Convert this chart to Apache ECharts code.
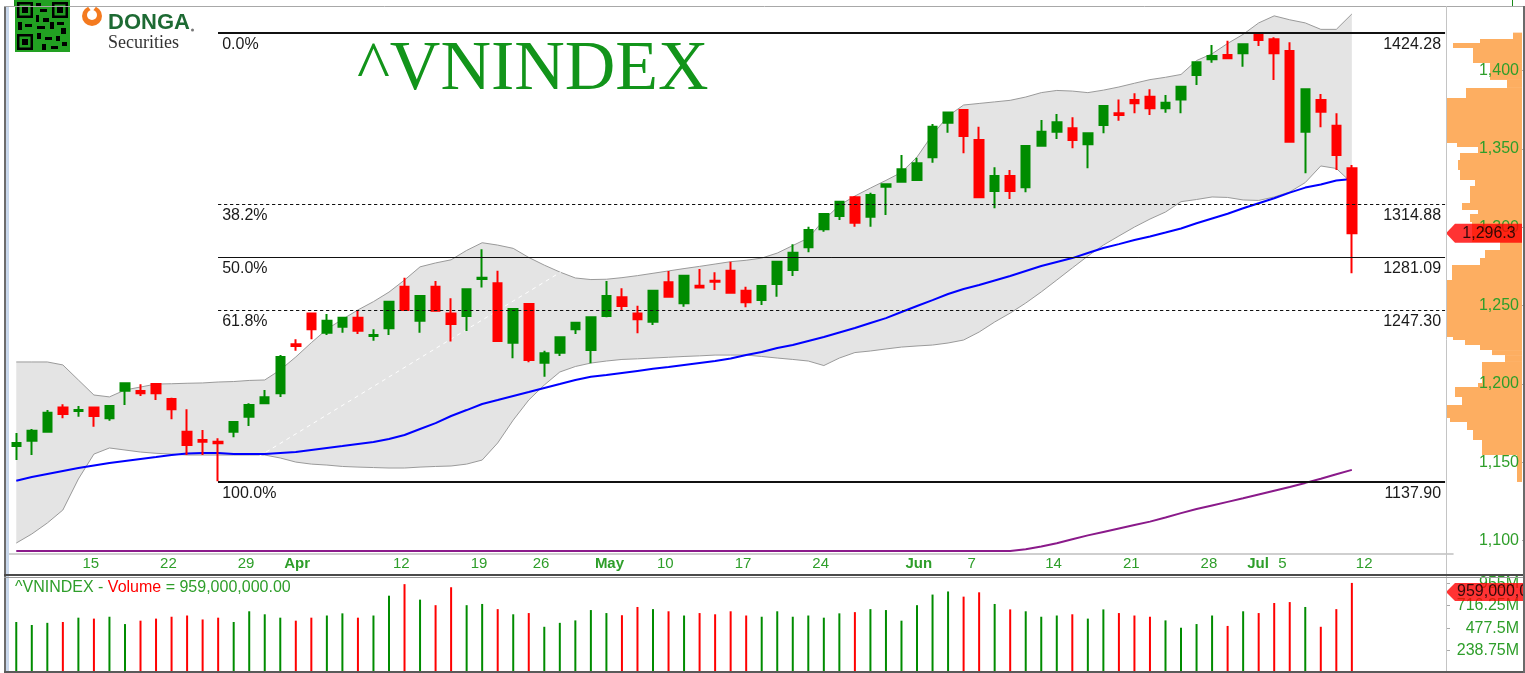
<!DOCTYPE html>
<html>
<head>
<meta charset="utf-8">
<title>^VNINDEX</title>
<script src="https://cdn.jsdelivr.net/npm/echarts@6/dist/echarts.min.js"></script>
<style>
html,body{margin:0;padding:0;background:#fff;}
#chart{width:1525px;height:673px;}
</style>
</head>
<body>
<div id="chart"></div>
<script>
// trading days shown (Mar 9 - Jul 12, 2021) + empty future slots on the right
var dates = [
 '2021-03-09','2021-03-10','2021-03-11','2021-03-12','2021-03-15','2021-03-16','2021-03-17','2021-03-18','2021-03-19',
 '2021-03-22','2021-03-23','2021-03-24','2021-03-25','2021-03-26','2021-03-29','2021-03-30','2021-03-31',
 '2021-04-01','2021-04-02','2021-04-05','2021-04-06','2021-04-07','2021-04-08','2021-04-09','2021-04-12','2021-04-13',
 '2021-04-14','2021-04-15','2021-04-16','2021-04-19','2021-04-20','2021-04-22','2021-04-23','2021-04-26','2021-04-27',
 '2021-04-28','2021-04-29','2021-05-04','2021-05-05','2021-05-06','2021-05-07','2021-05-10','2021-05-11','2021-05-12',
 '2021-05-13','2021-05-14','2021-05-17','2021-05-18','2021-05-19','2021-05-20','2021-05-21','2021-05-24','2021-05-25',
 '2021-05-26','2021-05-27','2021-05-28','2021-05-31','2021-06-01','2021-06-02','2021-06-03','2021-06-04','2021-06-07',
 '2021-06-08','2021-06-09','2021-06-10','2021-06-11','2021-06-14','2021-06-15','2021-06-16','2021-06-17','2021-06-18',
 '2021-06-21','2021-06-22','2021-06-23','2021-06-24','2021-06-25','2021-06-28','2021-06-29','2021-06-30','2021-07-01',
 '2021-07-02','2021-07-05','2021-07-06','2021-07-07','2021-07-08','2021-07-09','2021-07-12'];
var futureDates = ['2021-07-13','2021-07-14','2021-07-15','2021-07-16','2021-07-19','2021-07-20'];

// x axis tick labels (category index -> text)
var labelIdx  = [4, 9, 14, 17, 24, 29, 33, 37, 41, 46, 51, 57, 61, 66, 71, 76, 79, 81, 86];
var labelText = ['15','22','29','Apr','12','19','26','May','10','17','24','Jun','7','14','21','28','Jul','5','12'];

// OHLC
var opens = [1160.4,1163.8,1169.6,1185.1,1182.8,1185.1,1178.1,1195.8,1195.5,1200.0,1190.5,1169.6,1164.3,1163.2,1169.6,1179.2,1187.7,
 1194.1,1225.4,1245.1,1232.8,1236.6,1242.3,1230.7,1235.6,1262.1,1240.4,1262.1,1245.1,1243.4,1267.1,1264.3,1226.4,1251.1,1213.6,1220.0,1234.9,
 1221.7,1243.4,1255.4,1245.1,1239.8,1264.9,1251.5,1262.8,1266.0,1272.3,1259.6,1253.6,1263.9,1272.8,1287.3,1298.8,1307.3,1319.2,1306.8,1326.0,
 1329.2,1330.2,1344.7,1366.8,1374.9,1355.8,1323.2,1332.8,1325.6,1352.1,1361.1,1363.2,1353.0,1365.3,1372.8,1381.3,1383.4,1376.0,1381.7,1397.3,
 1407.3,1410.0,1411.1,1423.2,1420.0,1412.6,1361.1,1381.3,1364.9,1337.7];
var closes = [1162.4,1170.2,1181.7,1180.9,1183.4,1179.6,1186.0,1200.5,1194.1,1194.1,1183.9,1161.1,1163.2,1162.2,1175.8,1186.6,1191.5,
 1217.3,1224.3,1234.9,1240.4,1242.3,1234.0,1231.3,1252.6,1247.3,1256.2,1246.8,1238.3,1260.5,1267.9,1227.5,1247.9,1215.3,1219.6,1229.8,1239.2,
 1242.6,1256.2,1249.8,1241.3,1259.6,1255.7,1269.2,1261.7,1265.3,1258.3,1252.2,1262.6,1278.1,1283.8,1298.3,1308.5,1316.4,1303.0,1320.7,1327.5,
 1337.1,1340.9,1364.3,1373.4,1358.3,1319.2,1332.8,1323.2,1351.9,1361.1,1367.1,1355.8,1360.0,1377.5,1371.7,1379.2,1376.0,1379.6,1389.8,1405.4,
 1409.4,1407.9,1416.9,1419.6,1411.1,1354.7,1388.1,1373.8,1346.2,1296.3];
var lows = [1151.5,1154.7,1169.0,1178.1,1179.2,1172.8,1176.6,1186.6,1192.4,1189.8,1177.5,1154.7,1154.7,1137.9,1166.0,1173.2,1187.5,
 1191.7,1221.3,1228.6,1231.3,1232.8,1232.0,1227.7,1231.3,1247.0,1232.8,1246.5,1227.1,1233.9,1261.7,1227.3,1216.4,1213.9,1204.7,1217.9,1231.9,
 1213.2,1242.6,1247.3,1232.4,1237.7,1255.5,1249.4,1261.5,1260.0,1258.0,1249.0,1250.4,1255.7,1269.0,1284.1,1297.2,1304.7,1300.4,1300.4,1307.9,
 1329.0,1330.0,1341.3,1360.4,1347.3,1319.0,1312.2,1318.1,1322.4,1352.0,1356.4,1350.5,1337.7,1360.0,1368.1,1372.8,1371.7,1373.2,1372.8,1390.9,
 1405.1,1407.7,1402.6,1415.8,1394.1,1354.5,1334.5,1363.9,1336.6,1270.7];
var highs = [1168.8,1171.3,1183.4,1187.1,1186.0,1185.2,1186.3,1201.0,1199.8,1200.3,1191.3,1183.9,1170.7,1165.4,1176.0,1187.7,1196.2,
 1218.5,1228.6,1245.3,1244.7,1242.5,1246.8,1235.0,1253.0,1267.9,1256.5,1265.8,1254.7,1260.7,1286.0,1272.3,1248.2,1251.3,1221.3,1230.0,1239.5,
 1243.0,1265.8,1261.1,1250.0,1260.0,1272.2,1269.5,1273.4,1271.3,1278.1,1262.1,1262.8,1278.3,1289.2,1300.4,1308.8,1316.6,1320.0,1322.1,1327.7,
 1346.2,1344.5,1366.0,1373.6,1375.2,1364.3,1338.3,1336.6,1352.2,1368.5,1372.4,1370.3,1360.2,1377.7,1381.7,1385.6,1388.1,1384.5,1390.0,1405.6,
 1416.4,1419.1,1417.1,1424.28,1421.3,1418.1,1388.3,1385.1,1372.8,1339.8];

// volume, millions
var volumes = [543,511,534,543,589,579,599,521,557,579,599,612,570,589,543,657,625,
 589,557,589,612,635,589,612,823,946,781,722,913,722,735,680,625,638,492,534,560,
 670,638,615,703,680,657,612,638,625,657,612,599,657,599,612,589,635,648,680,670,
 557,722,835,868,813,859,735,677,657,599,612,625,579,677,638,612,599,560,482,521,
 612,501,657,638,745,755,703,492,680,959];

// Bollinger bands
var bbUpper = [1214.1,1214.1,1214.1,1212.2,1202.6,1193.0,1191.8,1196.2,1198.1,1200.0,1200.2,1200.5,1200.7,1201.3,1201.6,1202.3,1202.6,
 1209.0,1217.3,1226.4,1235.0,1241.3,1247.3,1252.6,1258.7,1266.4,1274.8,1277.3,1279.3,1285.3,1290.2,1288.7,1286.6,1280.8,1275.9,1271.5,1267.7,
 1266.7,1266.9,1267.9,1269.2,1270.7,1272.2,1273.7,1275.1,1276.6,1278.1,1279.0,1280.4,1283.6,1288.4,1293.2,1304.7,1314.1,1320.0,1325.1,1330.0,
 1335.1,1344.9,1359.2,1371.1,1378.1,1379.1,1380.1,1381.1,1383.2,1386.0,1387.4,1387.0,1386.0,1387.6,1389.6,1392.0,1394.3,1395.8,1397.6,1406.5,
 1410.8,1417.4,1423.2,1430.5,1435.0,1432.5,1430.5,1426.4,1426.4,1436.2];
var bbLower = [1098.5,1104.3,1111.3,1119.6,1139.4,1155.3,1159.2,1157.9,1156.6,1155.8,1155.3,1154.7,1154.7,1154.7,1154.7,1154.7,1154.7,
 1152.8,1150.2,1148.9,1148.3,1147.4,1147.0,1146.7,1146.4,1146.4,1147.0,1147.4,1147.7,1148.9,1151.5,1162.4,1177.0,1189.8,1199.4,1207.7,1211.2,
 1213.4,1214.7,1215.7,1216.1,1216.6,1217.1,1217.6,1218.0,1218.5,1218.5,1218.5,1217.6,1216.6,1215.7,1214.7,1211.8,1216.6,1220.1,1221.1,1222.4,
 1223.6,1224.3,1224.9,1226.2,1228.1,1233.2,1239.6,1245.3,1251.7,1258.8,1266.4,1274.1,1281.7,1288.7,1294.5,1300.2,1305.3,1309.8,1316.4,1317.8,
 1319.4,1319.1,1317.5,1317.2,1319.4,1322.6,1328.6,1339.2,1337.6,1328.3];

// moving averages
var ma50 = [1138.3,1140.7,1142.6,1144.5,1146.4,1148.0,1149.6,1150.9,1152.2,1153.4,1154.7,1155.7,1156.0,1156.0,1155.4,1155.4,1155.4,
 1156.0,1156.6,1157.9,1159.2,1160.4,1161.7,1163.0,1164.9,1167.5,1171.3,1175.1,1179.6,1183.4,1187.3,1189.8,1192.4,1194.9,1197.5,1200.0,1202.6,
 1204.6,1205.8,1207.1,1208.4,1209.7,1210.9,1212.2,1213.5,1214.7,1216.3,1218.5,1220.4,1223.0,1224.9,1227.5,1230.0,1232.9,1235.8,1239.0,1242.1,
 1246.0,1249.8,1253.6,1257.5,1260.7,1263.2,1266.1,1269.0,1272.2,1275.3,1277.9,1280.4,1283.6,1286.8,1289.3,1291.9,1294.2,1296.7,1299.3,1302.6,
 1305.7,1308.7,1312.2,1315.4,1318.6,1322.2,1325.4,1327.4,1329.9,1330.9];
var ma200 = [1093.4,1093.4,1093.4,1093.4,1093.4,1093.4,1093.4,1093.4,1093.4,1093.4,1093.4,1093.4,1093.4,1093.4,1093.4,1093.4,1093.4,
 1093.4,1093.4,1093.4,1093.4,1093.4,1093.4,1093.4,1093.4,1093.4,1093.4,1093.4,1093.4,1093.4,1093.4,1093.4,1093.4,1093.4,1093.4,1093.4,1093.4,
 1093.4,1093.4,1093.4,1093.4,1093.4,1093.4,1093.4,1093.4,1093.4,1093.4,1093.4,1093.4,1093.4,1093.4,1093.4,1093.4,1093.4,1093.4,1093.4,1093.4,
 1093.4,1093.4,1093.4,1093.4,1093.4,1093.4,1093.4,1093.4,1094.6,1096.3,1098.4,1100.9,1103.4,1105.6,1107.8,1110.0,1112.2,1114.8,1117.6,1120.2,
 1122.5,1124.8,1127.1,1129.5,1131.9,1134.3,1136.9,1139.6,1142.4,1145.2];

// Fibonacci retracement
var fibLevels = [1424.28, 1314.88, 1281.09, 1247.30, 1137.90];
var fibNames  = ['0.0%', '38.2%', '50.0%', '61.8%', '100.0%'];
var fibStart = 13, fibEnd = 92;
var trendFrom = [13, 1137.9], trendTo = [36, 1277.2];

// volume-by-price profile (edges high->low, bar length)
var profEdges = [1424.3,1420.2,1417.7,1414.5,1404.9,1394.1,1389.0,1382.6,1353.9,1351.3,1347.5,1343.0,1336.6,1330.2,1326.4,1315.5,1311.1,1308.5,
 1303.4,1290.7,1285.5,1280.4,1276.0,1266.4,1230.0,1228.1,1224.9,1221.7,1218.5,1214.1,1200.7,1198.1,1191.7,1186.6,1178.3,1175.8,1170.7,1164.3,1154.7,1137.5];
var profLen = [9,42,69,49,32,15,56,76,65,44,62,64,62,47,52,60,44,52,50,22,37,42,70,76,69,57,42,30,17,40,44,67,60,76,72,55,49,40,5];

var priceTicks = [1100,1150,1200,1250,1300,1350,1400];
var volTicks = [238.75, 477.5, 716.25, 955];
var lastClose = 1296.3, lastVolume = 959;

var UP = '#008c00', DOWN = '#ff0000', AXISGREEN = '#2e9e2a';
var PMIN = 1092.8, PMAX = 1441.3, VMAX = 1022;

var cats = dates.concat(futureDates);
var candleData = opens.map(function (o, i) { return [o, closes[i], lows[i], highs[i]]; });
var bbWidth = bbUpper.map(function (u, i) { return +(u - bbLower[i]).toFixed(2); });
var volData = volumes.map(function (v, i) {
  return { value: v, itemStyle: { color: closes[i] >= opens[i] ? UP : DOWN } };
});
var profData = profLen.map(function (l, i) { return [profEdges[i + 1], profEdges[i], l]; });

var fibLines = [];
fibLevels.forEach(function (v, i) {
  var thick = (i === 0 || i === fibLevels.length - 1);
  var dashed = (i === 1 || i === 3);
  var ls = { color: '#111', width: thick ? 2 : 1, type: dashed ? [3, 3] : 'solid' };
  var lb = { show: true, color: '#1a1a1a', fontSize: 16, fontFamily: 'Liberation Sans', distance: 4 };
  fibLines.push([
    { coord: [fibStart, v], lineStyle: ls, label: Object.assign({ position: 'insideStartBottom', formatter: fibNames[i] }, lb) },
    { coord: [fibEnd, v] }
  ]);
  fibLines.push([
    { coord: [fibStart, v], lineStyle: ls, label: Object.assign({ position: 'insideEndBottom', formatter: v.toFixed(2) }, lb) },
    { coord: [fibEnd, v] }
  ]);
});

function isLabel(index) { return labelIdx.indexOf(index) >= 0; }
function fmtNum(v) { return v.toLocaleString('en-US'); }

var chart = echarts.init(document.getElementById('chart'));

var option = {
  animation: false,
  backgroundColor: '#fff',
  textStyle: { fontFamily: 'Liberation Sans' },
  grid: [
    { left: 8.5, top: 6, width: 1444.3, height: 546 },
    { left: 8.5, top: 577, width: 1444.3, height: 105 },
    { left: 1446, top: 6, width: 76, height: 546 },
    { left: 1446, top: 577, width: 76, height: 105 }
  ],
  xAxis: [
    {
      type: 'category', gridIndex: 0, data: cats, boundaryGap: true, offset: 2,
      axisLine: { lineStyle: { color: '#cfcfcf', width: 2 } },
      axisTick: { interval: isLabel, alignWithLabel: true, length: 8, lineStyle: { color: '#bdbdbd' } },
      axisLabel: {
        interval: isLabel, align: 'left', margin: 2, padding: [0, 0, 0, 4],
        color: AXISGREEN, fontSize: 15, fontFamily: 'Liberation Sans',
        formatter: function (value, index) {
          var k = labelIdx.indexOf(index);
          if (k < 0) return '';
          var t = labelText[k];
          return /^[A-Z]/.test(t) ? '{b|' + t + '}' : t;
        },
        rich: { b: { fontWeight: 'bold', fontSize: 15, color: AXISGREEN, fontFamily: 'Liberation Sans' } }
      },
      splitLine: { show: false }
    },
    { type: 'category', gridIndex: 1, data: cats, boundaryGap: true, show: false },
    { type: 'value', gridIndex: 2, min: 0, max: 76, inverse: true, show: false },
    { type: 'value', gridIndex: 3, min: 0, max: 76, show: false }
  ],
  yAxis: [
    { type: 'value', gridIndex: 0, min: PMIN, max: PMAX, show: false, splitLine: { show: false } },
    { type: 'value', gridIndex: 1, min: 0, max: VMAX, show: false, splitLine: { show: false } },
    {
      type: 'value', gridIndex: 2, min: PMIN, max: PMAX, position: 'left', z: 5,
      axisLine: { show: false },
      axisTick: { show: true, inside: true, length: 4, customValues: priceTicks, lineStyle: { color: '#aaa' } },
      axisLabel: {
        inside: true, align: 'right', margin: 73, customValues: priceTicks,
        color: AXISGREEN, fontSize: 16, fontFamily: 'Liberation Sans',
        formatter: function (v) { return fmtNum(v); }
      },
      splitLine: { show: false }
    },
    {
      type: 'value', gridIndex: 3, min: 0, max: VMAX, position: 'left', z: 5,
      axisLine: { show: false },
      axisTick: { show: true, inside: true, length: 4, customValues: volTicks, lineStyle: { color: '#aaa' } },
      axisLabel: {
        inside: true, align: 'right', margin: 73, customValues: volTicks,
        color: AXISGREEN, fontSize: 16, fontFamily: 'Liberation Sans',
        formatter: function (v) { return v + 'M'; }
      },
      splitLine: { show: false }
    }
  ],
  series: [
    {
      name: 'BB lower', type: 'line', xAxisIndex: 0, yAxisIndex: 0, data: bbLower, stack: 'bb',
      symbol: 'none', lineStyle: { color: '#9a9a9a', width: 1 }, z: 1
    },
    {
      name: 'BB upper', type: 'line', xAxisIndex: 0, yAxisIndex: 0, data: bbWidth, stack: 'bb',
      symbol: 'none', lineStyle: { color: '#9a9a9a', width: 1 },
      areaStyle: { color: '#e4e4e4', opacity: 1 }, z: 1
    },
    {
      name: 'trend', type: 'line', xAxisIndex: 0, yAxisIndex: 0, data: [trendFrom, trendTo],
      symbol: 'none', lineStyle: { color: '#ffffff', width: 1, type: [4, 4] }, z: 1
    },
    {
      name: 'MA50', type: 'line', xAxisIndex: 0, yAxisIndex: 0, data: ma50,
      symbol: 'none', lineStyle: { color: '#0000ff', width: 2 }, z: 2
    },
    {
      name: 'MA200', type: 'line', xAxisIndex: 0, yAxisIndex: 0, data: ma200,
      symbol: 'none', lineStyle: { color: '#8a1a8a', width: 2 }, z: 2
    },
    {
      name: '^VNINDEX', type: 'candlestick', xAxisIndex: 0, yAxisIndex: 0, data: candleData,
      barWidth: 9, z: 3,
      itemStyle: { color: UP, color0: DOWN, borderColor: UP, borderColor0: DOWN, borderWidth: 2 }
    },
    {
      name: 'fib', type: 'line', xAxisIndex: 0, yAxisIndex: 0, data: [], z: 4,
      markLine: { silent: true, symbol: ['none', 'none'], animation: false, data: fibLines }
    },
    {
      name: 'Volume', type: 'bar', xAxisIndex: 1, yAxisIndex: 1, data: volData, barWidth: 2, z: 2
    },
    {
      name: 'profile', type: 'custom', xAxisIndex: 2, yAxisIndex: 2, data: profData, z: 2,
      encode: { x: 2, y: [0, 1] },
      renderItem: function (params, api) {
        var a = api.coord([api.value(2), api.value(1)]);
        var b = api.coord([0, api.value(0)]);
        return {
          type: 'rect',
          shape: { x: Math.min(a[0], b[0]), y: a[1], width: Math.abs(b[0] - a[0]), height: b[1] - a[1] },
          style: { fill: '#fdae61' }
        };
      }
    },
    {
      name: 'last', type: 'scatter', xAxisIndex: 2, yAxisIndex: 2, data: [[38, lastClose]], z: 8,
      symbol: 'path://M0,9.5 L9,0 L76,0 L76,19 L9,19 Z', symbolSize: [76, 19], symbolKeepAspect: false,
      itemStyle: { color: '#ff0000' },
      label: { show: true, position: 'inside', offset: [5, 0], color: '#000', fontSize: 16, fontFamily: 'Liberation Sans',
        formatter: function () { return fmtNum(lastClose); } }
    },
    {
      name: 'lastVol', type: 'scatter', xAxisIndex: 3, yAxisIndex: 3, data: [[38, lastVolume]], z: 8,
      symbol: 'path://M0,9 L9,0 L80,0 L80,18 L9,18 Z', symbolSize: [80, 18], symbolOffset: [2, 9], symbolKeepAspect: false,
      itemStyle: { color: '#ff0000' },
      label: { show: true, position: 'insideLeft', offset: [6, 0], color: '#000', fontSize: 16, fontFamily: 'Liberation Sans',
        formatter: function () { return fmtNum(lastVolume * 1000000); } }
    }
  ],
  graphic: [
    // frame
    { type: 'rect', z: 100, shape: { x: 0, y: 6, width: 5, height: 667 }, style: { fill: '#fff' } },
    { type: 'rect', z: 100, shape: { x: 4, y: 6, width: 2, height: 667 }, style: { fill: '#6d6d6d' } },
    { type: 'rect', z: 100, shape: { x: 6, y: 6, width: 3, height: 667 }, style: { fill: '#c9d8ec' } },
    { type: 'line', z: 100, shape: { x1: 4, y1: 6.5, x2: 1525, y2: 6.5 }, style: { stroke: '#a8a8a8', lineWidth: 1 } },
    { type: 'line', z: 100, shape: { x1: 14.5, y1: 0, x2: 14.5, y2: 6 }, style: { stroke: '#1a8a1a', lineWidth: 1 } },
    { type: 'line', z: 100, shape: { x1: 1512.5, y1: 0, x2: 1512.5, y2: 6 }, style: { stroke: '#1a8a1a', lineWidth: 1 } },
    { type: 'line', z: 100, shape: { x1: 1446.5, y1: 6, x2: 1446.5, y2: 673 }, style: { stroke: '#c4c4c4', lineWidth: 1 } },
    { type: 'rect', z: 100, shape: { x: 4, y: 574, width: 1521, height: 2 }, style: { fill: '#4a4a4a' } },
    { type: 'rect', z: 100, shape: { x: 4, y: 577, width: 1521, height: 1 }, style: { fill: '#9a9a9a' } },
    { type: 'rect', z: 100, shape: { x: 4, y: 671, width: 1521, height: 2 }, style: { fill: '#5a5a5a' } },
    { type: 'rect', z: 100, shape: { x: 1523, y: 6, width: 2, height: 667 }, style: { fill: '#6a6a6a' } },
    // QR code block
    { type: 'rect', z: 90, shape: { x: 15, y: 0, width: 55, height: 52 }, style: { fill: '#22a022' } },
    { type: 'rect', z: 91, shape: { x: 17, y: 2, width: 16, height: 16 }, style: { fill: '#000' } },
    { type: 'rect', z: 92, shape: { x: 19.5, y: 4.5, width: 11, height: 11 }, style: { fill: '#22a022' } },
    { type: 'rect', z: 93, shape: { x: 22, y: 7, width: 6, height: 6 }, style: { fill: '#000' } },
    { type: 'rect', z: 91, shape: { x: 52, y: 2, width: 16, height: 16 }, style: { fill: '#000' } },
    { type: 'rect', z: 92, shape: { x: 54.5, y: 4.5, width: 11, height: 11 }, style: { fill: '#22a022' } },
    { type: 'rect', z: 93, shape: { x: 57, y: 7, width: 6, height: 6 }, style: { fill: '#000' } },
    { type: 'rect', z: 91, shape: { x: 17, y: 34, width: 16, height: 16 }, style: { fill: '#000' } },
    { type: 'rect', z: 92, shape: { x: 19.5, y: 36.5, width: 11, height: 11 }, style: { fill: '#22a022' } },
    { type: 'rect', z: 93, shape: { x: 22, y: 39, width: 6, height: 6 }, style: { fill: '#000' } },
    { type: 'rect', z: 91, shape: { x: 36, y: 3, width: 5, height: 4 }, style: { fill: '#000' } },
    { type: 'rect', z: 91, shape: { x: 40, y: 9, width: 7, height: 3 }, style: { fill: '#000' } },
    { type: 'rect', z: 91, shape: { x: 36, y: 15, width: 3, height: 7 }, style: { fill: '#000' } },
    { type: 'rect', z: 91, shape: { x: 43, y: 18, width: 6, height: 4 }, style: { fill: '#000' } },
    { type: 'rect', z: 91, shape: { x: 18, y: 22, width: 4, height: 8 }, style: { fill: '#000' } },
    { type: 'rect', z: 91, shape: { x: 25, y: 24, width: 7, height: 3 }, style: { fill: '#000' } },
    { type: 'rect', z: 91, shape: { x: 37, y: 26, width: 8, height: 3 }, style: { fill: '#000' } },
    { type: 'rect', z: 91, shape: { x: 50, y: 22, width: 4, height: 7 }, style: { fill: '#000' } },
    { type: 'rect', z: 91, shape: { x: 57, y: 22, width: 7, height: 3 }, style: { fill: '#000' } },
    { type: 'rect', z: 91, shape: { x: 61, y: 28, width: 5, height: 6 }, style: { fill: '#000' } },
    { type: 'rect', z: 91, shape: { x: 37, y: 33, width: 4, height: 6 }, style: { fill: '#000' } },
    { type: 'rect', z: 91, shape: { x: 45, y: 37, width: 7, height: 3 }, style: { fill: '#000' } },
    { type: 'rect', z: 91, shape: { x: 56, y: 36, width: 4, height: 5 }, style: { fill: '#000' } },
    { type: 'rect', z: 91, shape: { x: 62, y: 42, width: 5, height: 4 }, style: { fill: '#000' } },
    { type: 'rect', z: 91, shape: { x: 42, y: 44, width: 4, height: 6 }, style: { fill: '#000' } },
    { type: 'rect', z: 91, shape: { x: 51, y: 46, width: 7, height: 3 }, style: { fill: '#000' } },
    // DongA logo
    { type: 'circle', z: 90, shape: { cx: 92, cy: 16, r: 10 }, style: { fill: '#f47a1f' } },
    { type: 'circle', z: 91, shape: { cx: 92, cy: 15, r: 5 }, style: { fill: '#fff' } },
    { type: 'polygon', z: 91, shape: { points: [[86, 4], [98, 4], [92, 12]] }, style: { fill: '#fff' } },
    { type: 'text', z: 90, left: 108, top: 12, style: { text: 'DONGA', fill: '#1d6a33', font: 'bold 22px "Liberation Sans"' } },
    { type: 'circle', z: 90, shape: { cx: 192.5, cy: 30, r: 1.5 }, style: { fill: '#777' } },
    { type: 'text', z: 90, left: 108, top: 34, style: { text: 'Securities', fill: '#333', font: '18px "Liberation Serif"' } },
    // title
    { type: 'text', z: 90, left: 357, top: 36, style: { text: '^VNINDEX', fill: '#12941a', font: '70px "Liberation Serif"' } },
    // volume panel caption
    { type: 'text', z: 90, left: 15, top: 580, style: {
        text: '{g|^VNINDEX - }{r|Volume}{g| = 959,000,000.00}',
        rich: {
          g: { fill: AXISGREEN, font: '16px "Liberation Sans"' },
          r: { fill: '#ff0000', font: '16px "Liberation Sans"' }
        } } }
  ]
};

chart.setOption(option);
</script>
</body>
</html>
